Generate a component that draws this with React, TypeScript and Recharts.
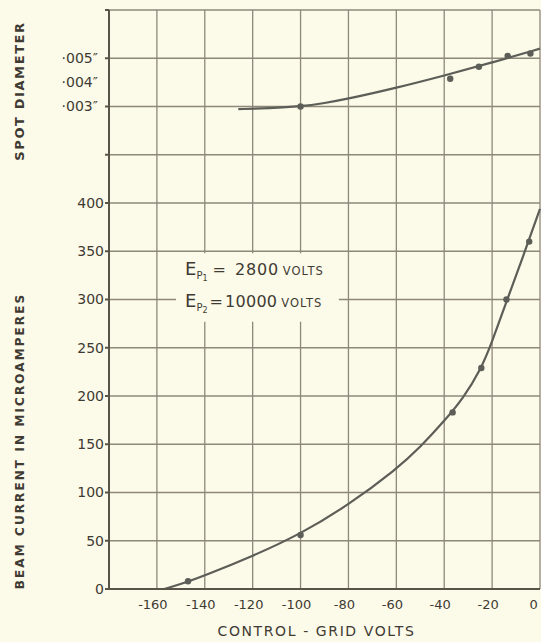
import React from 'react'
import {
  ComposedChart,
  Line,
  Scatter,
  XAxis,
  YAxis,
  CartesianGrid,
  ReferenceArea,
  ReferenceLine,
  Customized,
} from 'recharts'

// control-grid volts
const xTicks = [-180, -160, -140, -120, -100, -80, -60, -40, -20, 0]
const currentTicks = [0, 50, 100, 150, 200, 250, 300, 350, 400, 450, 500, 550, 600]
const spotTicks = [0.003, 0.004, 0.005]

// beam current (microamperes) – smooth curve as drawn
const beamCurveVolts = [-157, -150, -140, -120, -100, -80, -60, -50, -40, -32, -25, -20, -14, -7, 0]
const beamCurveMicroA = [0, 5, 14, 34, 57, 87, 124, 147, 174, 198, 226, 256, 298, 345, 394]
// measured points
const beamPointVolts = [-147, -100, -36.5, -24.5, -14, -4.5]
const beamPointMicroA = [8, 56, 183, 229, 300, 360]

// spot diameter (inches)
const spotCurveVolts = [-126, -113, -100, -90, -80, -60, -40, -20, 0]
const spotCurveInches = [0.00289, 0.00293, 0.003, 0.00314, 0.00332, 0.00377, 0.00428, 0.00482, 0.0054]
const spotPointVolts = [-100, -37.5, -25.5, -13.5, -4]
const spotPointInches = [0.003, 0.00415, 0.00465, 0.0051, 0.0052]

const toPts = (xs: number[], ys: number[]) => xs.map((v, i) => ({ v, y: ys[i] }))

const PAPER = '#FCFAE9'
const GRID = '#8E887B'
const INK = '#3F3A33'
const CURVE = '#5C5E57'
const FONT = '"DejaVu Sans", sans-serif'

const Titles = () => (
  <g fill={INK} fontFamily={FONT} fontWeight="bold">
    <text
      x={0}
      y={0}
      transform="translate(24,91) rotate(-90)"
      textAnchor="middle"
      fontSize={13}
      letterSpacing={1.6}
    >
      SPOT DIAMETER
    </text>
    <text
      x={0}
      y={0}
      transform="translate(24,441) rotate(-90)"
      textAnchor="middle"
      fontSize={12}
      letterSpacing={2.1}
    >
      BEAM CURRENT IN MICROAMPERES
    </text>
  </g>
)

const EpLabel = (props: any) => {
  const { x, y } = props.viewBox
  return (
    <g fill={INK} fontFamily={FONT}>
      <text x={x + 9} y={y + 22} fontSize={16}>
        <tspan fontSize={18}>E</tspan>
        <tspan fontSize={10} dy={4}>P</tspan>
        <tspan fontSize={8} dy={2}>1</tspan>
        <tspan dy={-6} dx={5}>=</tspan>
        <tspan dx={9} letterSpacing={0.8}>2800</tspan>
        <tspan fontSize={11.5} dx={4} letterSpacing={1}>VOLTS</tspan>
      </text>
      <text x={x + 9} y={y + 54} fontSize={16}>
        <tspan fontSize={18}>E</tspan>
        <tspan fontSize={10} dy={4}>P</tspan>
        <tspan fontSize={8} dy={2}>2</tspan>
        <tspan dy={-6} dx={2}>=</tspan>
        <tspan dx={2} letterSpacing={0.3}>10000</tspan>
        <tspan fontSize={11.5} dx={4} letterSpacing={1}>VOLTS</tspan>
      </text>
    </g>
  )
}

export default function App() {
  return (
    <div style={{ position: 'absolute', left: 0, top: 0, width: 541, height: 642, background: PAPER }}>
      <ComposedChart width={541} height={642} margin={{ top: 10, right: 1, bottom: 0, left: 0 }}>
        <CartesianGrid yAxisId="cur" stroke={GRID} strokeWidth={1.3} />
        <XAxis
          type="number"
          dataKey="v"
          domain={[-180, 0]}
          ticks={xTicks}
          height={53}
          stroke="#5A5348"
          strokeWidth={2}
          tickLine={false}
          tickMargin={5}
          tick={{ fontSize: 13, fill: INK, fontFamily: FONT, dx: -4 }}
          tickFormatter={(v: number) => (v === -180 ? '' : String(v))}
          label={{
            value: 'CONTROL - GRID  VOLTS',
            position: 'insideBottom',
            offset: 6,
            dx: -8,
            style: { fontSize: 14, fill: INK, fontFamily: FONT, letterSpacing: 1.6, whiteSpace: 'pre' },
          }}
        />
        <YAxis
          yAxisId="cur"
          domain={[0, 600]}
          ticks={currentTicks}
          width={109}
          stroke="#5A5348"
          strokeWidth={2}
          tickSize={4}
          tickMargin={1}
          tick={{ fontSize: 14, fill: INK, fontFamily: FONT }}
          tickFormatter={(v: number) => (v <= 400 ? String(v) : '')}
        />
        <YAxis yAxisId="spot" domain={[-0.017, 0.007]} hide />
        {spotTicks.map((t) => (
          <ReferenceLine
            key={t}
            yAxisId="spot"
            y={t}
            stroke="none"
            label={{
              value: '·00' + Math.round(t * 1000) + '″',
              position: 'left',
              offset: 11,
              style: { fontSize: 14, fill: INK, fontFamily: FONT },
            }}
          />
        ))}
        <ReferenceArea
          yAxisId="cur"
          x1={-152}
          x2={-84}
          y1={277}
          y2={348}
          fill={PAPER}
          fillOpacity={1}
          stroke="none"
          label={<EpLabel />}
        />
        <Line
          yAxisId="cur"
          data={toPts(beamCurveVolts, beamCurveMicroA)}
          dataKey="y"
          type="basis"
          stroke={CURVE}
          strokeWidth={2.2}
          dot={false}
          isAnimationActive={false}
        />
        <Scatter
          yAxisId="cur"
          data={toPts(beamPointVolts, beamPointMicroA)}
          dataKey="y"
          fill={CURVE}
          shape={(p: any) => <circle cx={p.cx} cy={p.cy} r={3.2} fill={CURVE} />}
          isAnimationActive={false}
        />
        <Line
          yAxisId="spot"
          data={toPts(spotCurveVolts, spotCurveInches)}
          dataKey="y"
          type="basis"
          stroke={CURVE}
          strokeWidth={2.2}
          dot={false}
          isAnimationActive={false}
        />
        <Scatter
          yAxisId="spot"
          data={toPts(spotPointVolts, spotPointInches)}
          dataKey="y"
          fill={CURVE}
          shape={(p: any) => <circle cx={p.cx} cy={p.cy} r={3.2} fill={CURVE} />}
          isAnimationActive={false}
        />
        <Customized component={Titles} />
      </ComposedChart>
    </div>
  )
}
